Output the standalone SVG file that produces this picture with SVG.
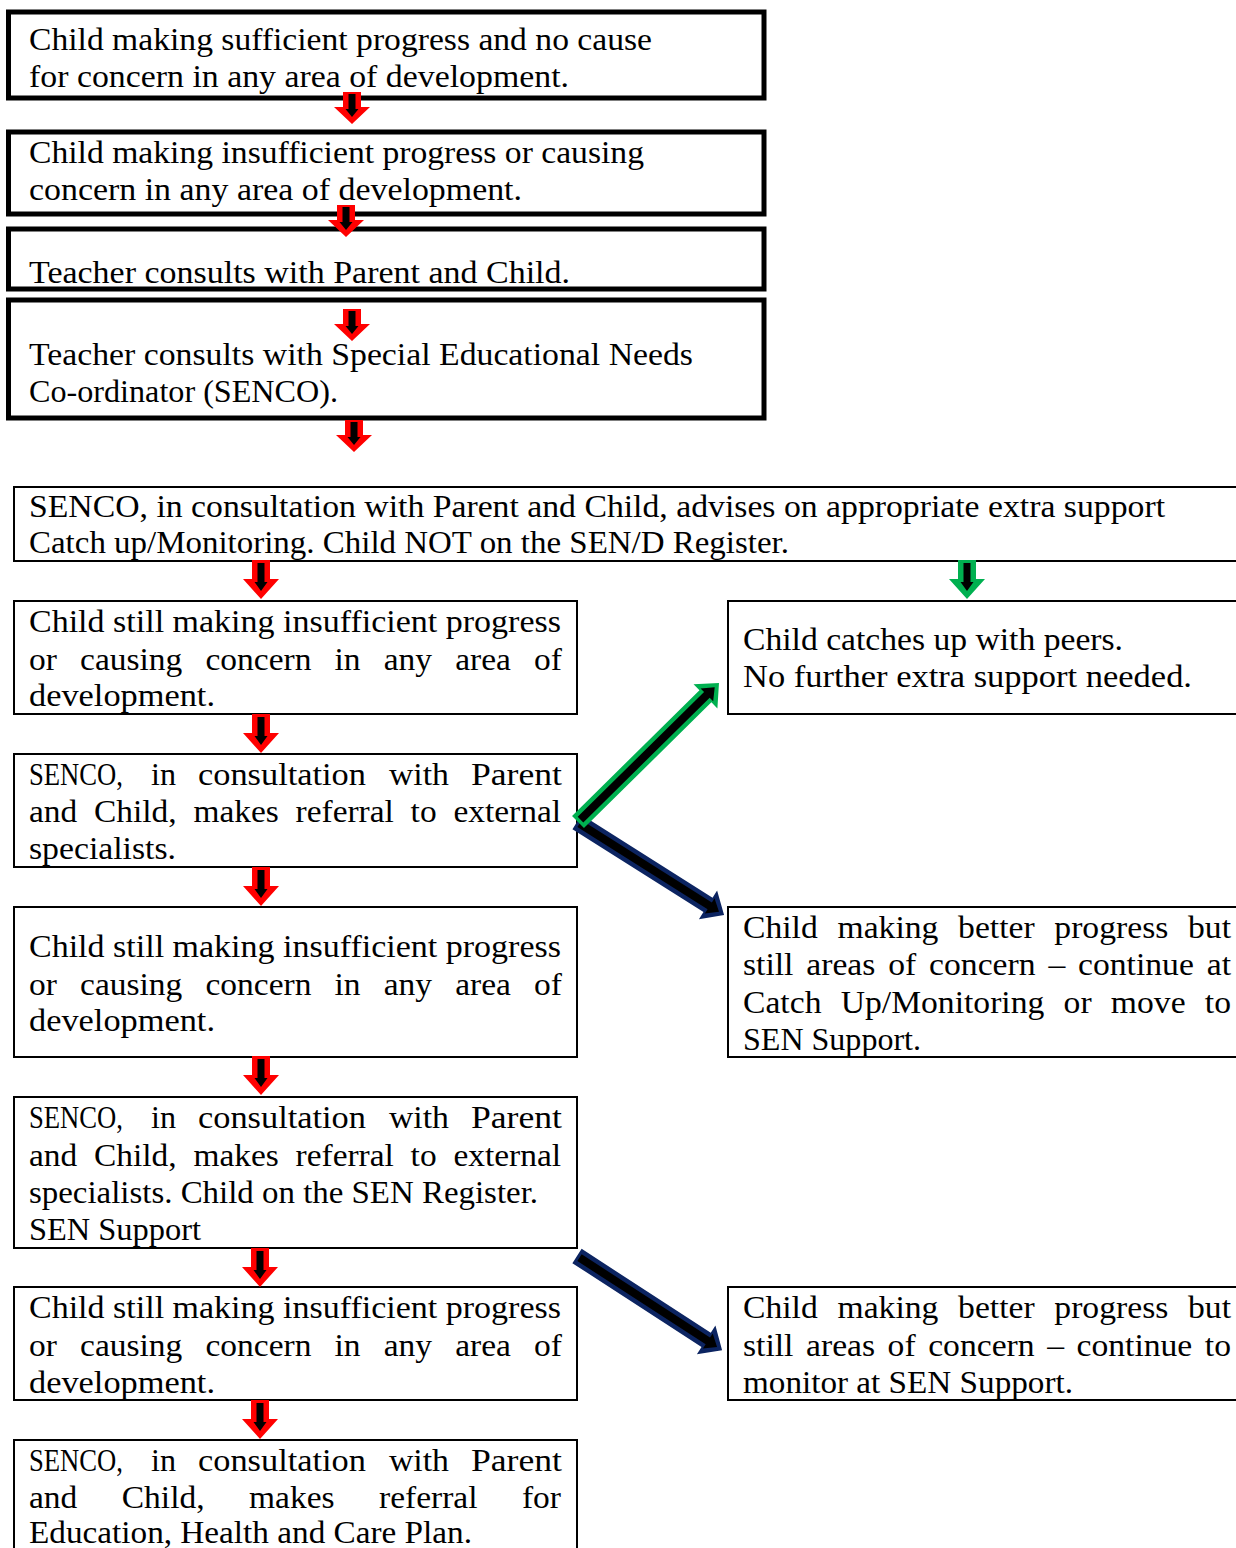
<svg xmlns="http://www.w3.org/2000/svg" width="1236" height="1548" viewBox="0 0 1236 1548">
<style>
.t{font-family:"Liberation Serif","Times New Roman",serif;font-size:31px;fill:#000}
.thick{fill:#fff;stroke:#000;stroke-width:5}
.thin{fill:#fff;stroke:#000;stroke-width:2}
.red{fill:#ff0000}
.grn{fill:#00b050}
.nvy{fill:#0c2461}
.blk{fill:#000}
</style>
<defs>
<g id="arS">
<path class="red" d="M-9,0 H9 V15 H18 L0,32 L-18,15 H-9 Z"/>
<path class="blk" d="M-3.5,2 H3.5 V17 H6.5 L0,25 L-6.5,17 H-3.5 Z"/>
</g>
<g id="arT">
<path class="red" d="M-9,0 H9 V19 H18 L0,39 L-18,19 H-9 Z"/>
<path class="blk" d="M-3.5,3 H3.5 V22 H6.5 L0,31 L-6.5,22 H-3.5 Z"/>
</g>
<g id="arG">
<path class="grn" d="M-9,0 H9 V19 H18 L0,39 L-18,19 H-9 Z"/>
<path class="blk" d="M-3.5,3 H3.5 V22 H6.5 L0,31 L-6.5,22 H-3.5 Z"/>
</g>
</defs>

<g id="n1">
<rect class="thick" x="8.5" y="12" width="755.5" height="86"/>
<text class="t" x="29" y="50" textLength="623" lengthAdjust="spacingAndGlyphs">Child making sufficient progress and no cause</text>
<text class="t" x="29" y="87" textLength="540" lengthAdjust="spacingAndGlyphs">for concern in any area of development.</text>
</g>
<g id="n2">
<rect class="thick" x="8.5" y="132" width="755.5" height="82"/>
<text class="t" x="29" y="163" textLength="615" lengthAdjust="spacingAndGlyphs">Child making insufficient progress or causing</text>
<text class="t" x="29" y="200" textLength="493" lengthAdjust="spacingAndGlyphs">concern in any area of development.</text>
</g>
<g id="n3">
<rect class="thick" x="8.5" y="229" width="755.5" height="60"/>
<text class="t" x="29" y="283" textLength="541" lengthAdjust="spacingAndGlyphs">Teacher consults with Parent and Child.</text>
</g>
<g id="n4">
<rect class="thick" x="8.5" y="300" width="755.5" height="118"/>
<text class="t" x="29" y="365" textLength="664" lengthAdjust="spacingAndGlyphs">Teacher consults with Special Educational Needs</text>
<text class="t" x="29" y="402" textLength="309" lengthAdjust="spacingAndGlyphs">Co-ordinator (SENCO).</text>
</g>
<g id="n5">
<rect class="thin" x="14" y="487" width="1240" height="74"/>
<text class="t" x="29" y="517" textLength="1136" lengthAdjust="spacingAndGlyphs">SENCO, in consultation with Parent and Child, advises on appropriate extra support</text>
<text class="t" x="29" y="553" textLength="760" lengthAdjust="spacingAndGlyphs">Catch up/Monitoring. Child NOT on the SEN/D Register.</text>
</g>
<g id="n6">
<rect class="thin" x="14" y="601" width="563" height="113"/>
<text class="t" x="29" y="632" textLength="532" lengthAdjust="spacingAndGlyphs">Child still making insufficient progress</text>
<text class="t" x="29" y="670" style="word-spacing:13.7px" textLength="533" lengthAdjust="spacingAndGlyphs">or causing concern in any area of</text>
<text class="t" x="29" y="706" textLength="186" lengthAdjust="spacingAndGlyphs">development.</text>
</g>
<g id="n7">
<rect class="thin" x="728" y="601" width="520" height="113"/>
<text class="t" x="743" y="650" textLength="380" lengthAdjust="spacingAndGlyphs">Child catches up with peers.</text>
<text class="t" x="743" y="687" textLength="449" lengthAdjust="spacingAndGlyphs">No further extra support needed.</text>
</g>
<g id="n8">
<rect class="thin" x="14" y="754" width="563" height="113"/>
<text class="t" y="785"><tspan x="29" textLength="94" lengthAdjust="spacingAndGlyphs">SENCO,</tspan> <tspan x="151" textLength="25" lengthAdjust="spacingAndGlyphs">in</tspan> <tspan x="198" textLength="168" lengthAdjust="spacingAndGlyphs">consultation</tspan> <tspan x="389" textLength="60" lengthAdjust="spacingAndGlyphs">with</tspan> <tspan x="471" textLength="91" lengthAdjust="spacingAndGlyphs">Parent</tspan></text>
<text class="t" x="29" y="822" style="word-spacing:7.8px" textLength="532" lengthAdjust="spacingAndGlyphs">and Child, makes referral to external</text>
<text class="t" x="29" y="859" textLength="147" lengthAdjust="spacingAndGlyphs">specialists.</text>
</g>
<g id="n9">
<rect class="thin" x="14" y="907" width="563" height="150"/>
<text class="t" x="29" y="957" textLength="532" lengthAdjust="spacingAndGlyphs">Child still making insufficient progress</text>
<text class="t" x="29" y="995" style="word-spacing:13.7px" textLength="533" lengthAdjust="spacingAndGlyphs">or causing concern in any area of</text>
<text class="t" x="29" y="1031" textLength="186" lengthAdjust="spacingAndGlyphs">development.</text>
</g>
<g id="n10">
<rect class="thin" x="728" y="907" width="520" height="150"/>
<text class="t" x="743" y="938" style="word-spacing:10.4px" textLength="488" lengthAdjust="spacingAndGlyphs">Child making better progress but</text>
<text class="t" x="743" y="975" style="word-spacing:4.1px" textLength="488" lengthAdjust="spacingAndGlyphs">still areas of concern – continue at</text>
<text class="t" x="743" y="1013" style="word-spacing:10px" textLength="488" lengthAdjust="spacingAndGlyphs">Catch Up/Monitoring or move to</text>
<text class="t" x="743" y="1050" textLength="178" lengthAdjust="spacingAndGlyphs">SEN Support.</text>
</g>
<g id="n11">
<rect class="thin" x="14" y="1097" width="563" height="151"/>
<text class="t" y="1128"><tspan x="29" textLength="94" lengthAdjust="spacingAndGlyphs">SENCO,</tspan> <tspan x="151" textLength="25" lengthAdjust="spacingAndGlyphs">in</tspan> <tspan x="198" textLength="168" lengthAdjust="spacingAndGlyphs">consultation</tspan> <tspan x="389" textLength="60" lengthAdjust="spacingAndGlyphs">with</tspan> <tspan x="471" textLength="91" lengthAdjust="spacingAndGlyphs">Parent</tspan></text>
<text class="t" x="29" y="1166" style="word-spacing:7.8px" textLength="532" lengthAdjust="spacingAndGlyphs">and Child, makes referral to external</text>
<text class="t" x="29" y="1203" textLength="509" lengthAdjust="spacingAndGlyphs">specialists. Child on the SEN Register.</text>
<text class="t" x="29" y="1240" textLength="172" lengthAdjust="spacingAndGlyphs">SEN Support</text>
</g>
<g id="n12">
<rect class="thin" x="14" y="1287" width="563" height="113"/>
<text class="t" x="29" y="1318" textLength="532" lengthAdjust="spacingAndGlyphs">Child still making insufficient progress</text>
<text class="t" x="29" y="1356" style="word-spacing:13.7px" textLength="533" lengthAdjust="spacingAndGlyphs">or causing concern in any area of</text>
<text class="t" x="29" y="1393" textLength="186" lengthAdjust="spacingAndGlyphs">development.</text>
</g>
<g id="n13">
<rect class="thin" x="728" y="1287" width="520" height="113"/>
<text class="t" x="743" y="1318" style="word-spacing:10.4px" textLength="488" lengthAdjust="spacingAndGlyphs">Child making better progress but</text>
<text class="t" x="743" y="1356" style="word-spacing:3.8px" textLength="488" lengthAdjust="spacingAndGlyphs">still areas of concern – continue to</text>
<text class="t" x="743" y="1393" textLength="330" lengthAdjust="spacingAndGlyphs">monitor at SEN Support.</text>
</g>
<g id="n14">
<rect class="thin" x="14" y="1440" width="563" height="130"/>
<text class="t" y="1471"><tspan x="29" textLength="94" lengthAdjust="spacingAndGlyphs">SENCO,</tspan> <tspan x="151" textLength="25" lengthAdjust="spacingAndGlyphs">in</tspan> <tspan x="198" textLength="168" lengthAdjust="spacingAndGlyphs">consultation</tspan> <tspan x="389" textLength="60" lengthAdjust="spacingAndGlyphs">with</tspan> <tspan x="471" textLength="91" lengthAdjust="spacingAndGlyphs">Parent</tspan></text>
<text class="t" x="29" y="1508" style="word-spacing:33.4px" textLength="532" lengthAdjust="spacingAndGlyphs">and Child, makes referral for</text>
<text class="t" x="29" y="1543" textLength="443" lengthAdjust="spacingAndGlyphs">Education, Health and Care Plan.</text>
</g>

<g id="connectors">
<use href="#arS" x="352" y="92"/>
<use href="#arS" x="346" y="205"/>
<use href="#arS" x="352" y="309"/>
<use href="#arS" x="354" y="420"/>
<use href="#arT" x="261" y="560"/>
<use href="#arG" x="967" y="560"/>
<use href="#arT" x="261" y="714"/>
<use href="#arT" x="261" y="867"/>
<use href="#arT" x="261" y="1056"/>
<use href="#arT" x="260" y="1248"/>
<use href="#arT" x="260" y="1400"/>
<g transform="translate(577,822) rotate(32.3)">
<path class="nvy" d="M0,-8.5 H155 V-17 L174,0 L155,17 V8.5 H0 Z"/>
<path class="blk" d="M3,-4 H157 V-9 L168,0 L157,9 V4 H3 Z"/>
</g>
<g transform="translate(577,1256) rotate(33)">
<path class="nvy" d="M0,-8.5 H154 V-17 L173,0 L154,17 V8.5 H0 Z"/>
<path class="blk" d="M3,-4 H156 V-9 L167,0 L156,9 V4 H3 Z"/>
</g>
<g transform="translate(578,822) rotate(-44.6)">
<path class="grn" d="M0,-8.5 H179 V-17 L198,0 L179,17 V8.5 H0 Z"/>
<path class="blk" d="M3.5,-4 H181 V-9 L192,0 L181,9 V4 H3.5 Z"/>
</g>
</g>
</svg>
